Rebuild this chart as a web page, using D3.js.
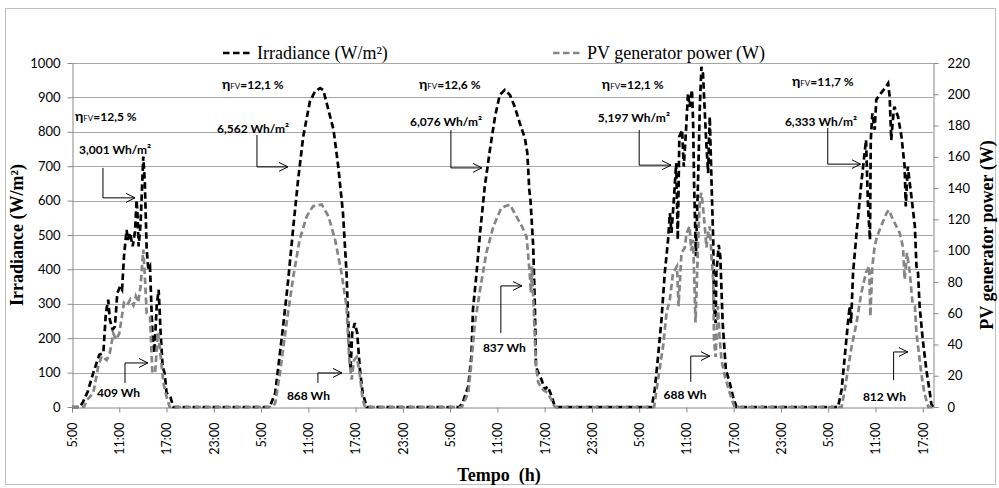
<!DOCTYPE html>
<html>
<head>
<meta charset="utf-8">
<script src="https://cdn.jsdelivr.net/npm/d3@7"></script>
<style>
  body { margin: 0; background: #fff; }
  svg { display: block; }
</style>
</head>
<body>
<div id="chart"></div>
<script>
// each day's readings: [clock hour, value]; the x axis starts at 5:00 of day 1
var irrDay1 = [[5.0,0],[6.0,0],[6.4,15],[7.0,45],[7.7,99],[8.47,152],[8.98,157],[9.3,274],[9.6,312],[9.8,254],[10.16,225],[10.45,234],[10.75,331],[11.1,350],[11.35,341],[11.6,438],[11.93,515],[12.1,486],[12.36,506],[12.7,467],[13.0,510],[13.2,602],[13.33,554],[13.46,467],[13.7,532],[14.05,728],[14.25,651],[14.48,457],[14.7,399],[14.9,408],[15.2,216],[15.45,157],[15.75,293],[16.0,341],[16.25,216],[16.5,118],[16.75,99],[17.0,42],[17.5,28],[17.86,0]];
var irrDay2 = [[6.1,0],[6.8,41],[7.2,118],[7.8,235],[8.45,370],[9.1,525],[9.7,660],[10.35,786],[11.2,888],[11.84,917],[12.5,927],[12.9,921],[13.55,864],[14.2,806],[14.8,699],[15.4,564],[15.85,390],[16.15,196],[16.36,109],[16.57,215],[16.9,244],[17.2,216],[17.55,109],[17.9,41],[18.4,0]];
var irrDay3 = [[6.2,0],[6.66,17],[7.3,60],[7.7,147],[7.9,283],[8.36,390],[8.8,506],[9.4,641],[10.05,747],[10.7,844],[11.3,907],[11.95,922],[12.6,907],[13.2,873],[13.85,825],[14.5,781],[14.8,738],[15.05,631],[15.2,602],[15.4,525],[15.55,467],[15.76,293],[15.9,118],[16.2,99],[16.6,80],[17.0,51],[17.4,60],[17.9,31],[18.3,0]];
var irrDay4 = [[6.6,0],[6.98,51],[7.4,147],[7.83,254],[8.25,390],[8.67,486],[8.9,564],[9.1,506],[9.4,602],[9.7,709],[9.9,486],[10.1,786],[10.45,805],[10.66,699],[10.9,786],[11.2,912],[11.4,873],[11.7,922],[11.85,825],[11.97,651],[12.2,438],[12.5,680],[12.7,873],[12.9,989],[13.1,970],[13.3,873],[13.5,776],[13.75,680],[13.96,844],[14.2,640],[14.4,486],[14.5,293],[14.7,244],[14.8,390],[15.1,471],[15.3,438],[15.6,244],[16.0,109],[16.5,70],[16.9,31],[17.35,0]];
var irrDay5 = [[6.25,0],[6.7,51],[7.1,147],[7.5,244],[7.73,293],[7.9,244],[8.15,390],[8.6,506],[9.2,651],[9.8,776],[10.05,583],[10.3,486],[10.4,776],[10.6,854],[10.9,806],[11.1,893],[11.5,907],[12.2,927],[12.6,941],[12.8,902],[13.0,776],[13.2,834],[13.4,873],[13.86,844],[14.3,786],[14.7,699],[14.84,583],[15.1,699],[15.56,612],[16.0,525],[16.2,409],[16.4,390],[16.6,293],[17.0,196],[17.45,109],[17.9,41],[18.1,8],[18.3,0]];

var pvDay1 = [[5.0,0],[6.5,0],[7.0,5],[7.7,9],[8.34,26],[8.76,32.5],[9.4,30],[9.8,34.7],[10.24,47],[10.6,43],[11.0,47],[11.6,66.6],[12.0,65],[12.4,68.8],[12.8,65],[13.1,70.9],[13.4,67],[13.7,77],[14.05,100.7],[14.25,83.7],[14.48,60],[14.9,58],[15.2,22],[15.55,22],[15.9,47.6],[16.1,40],[16.6,15.6],[17.0,6.4],[17.4,0]];
var pvDay2 = [[6.5,0],[6.8,2.7],[7.4,21.9],[8.24,53.8],[9.1,83.7],[9.9,107],[10.8,122],[11.6,128.4],[12.7,129.5],[13.55,122],[14.4,107],[15.2,86],[15.85,64.5],[16.2,30],[16.5,17.6],[16.8,30],[17.15,32],[17.5,22],[17.9,4.8],[18.2,0]];
var pvDay3 = [[6.5,0],[7.3,9],[7.7,28],[8.1,51.7],[8.8,75],[9.6,98.6],[10.5,115.6],[11.5,127.4],[12.6,129.5],[13.4,122],[14.1,115.6],[14.7,109],[14.85,100.7],[15.1,85.8],[15.25,73],[15.4,90],[15.6,64.5],[15.9,26],[16.2,15.5],[16.8,11],[17.4,9],[17.9,4],[18.3,0]];
var pvDay4 = [[6.9,0],[7.4,17.6],[8.04,39],[8.47,60],[8.9,69],[9.3,86],[9.8,90],[10.0,64.5],[10.37,98.6],[10.8,102],[11.0,111],[11.4,115.6],[11.6,100],[11.85,107],[12.15,54],[12.5,107],[12.7,132.7],[12.9,137],[13.1,128],[13.33,115.6],[13.54,102],[13.75,111],[13.96,115.6],[14.18,96.6],[14.4,81.5],[14.5,43],[14.7,32],[15.0,64.5],[15.2,45],[15.45,30],[15.87,19.7],[16.5,9],[17.1,0]];
var pvDay5 = [[6.7,0],[7.1,11],[7.5,24],[7.9,36.8],[8.6,54],[9.2,73],[9.8,86],[10.2,90],[10.35,58],[10.6,90],[10.9,103],[11.2,109],[11.7,115.6],[12.4,124],[12.7,126],[13.2,120],[13.65,115.6],[14.1,111],[14.5,102],[14.7,81.5],[15.0,98.6],[15.35,86],[15.7,66.6],[16.0,64.5],[16.2,47.4],[16.4,39],[16.8,22],[17.2,9],[17.7,0],[18.3,0]];

var tickLabels = ["5:00","11:00","17:00","23:00","5:00","11:00","17:00","23:00","5:00","11:00","17:00","23:00",
                  "5:00","11:00","17:00","23:00","5:00","11:00","17:00"];
var irrTicks = [0,100,200,300,400,500,600,700,800,900,1000];
var pvTicks = [0,20,40,60,80,100,120,140,160,180,200,220];

var effLabels = ["12,5 %","12,1 %","12,6 %","12,1 %","11,7 %"];
var irrEnergy = ["3,001 Wh/m²","6,562 Wh/m²","6,076 Wh/m²","5,197 Wh/m²","6,333 Wh/m²"];
var pvEnergy = ["409 Wh","868 Wh","837 Wh","688 Wh","812 Wh"];

// where each day's notes sit, in axis units (hours from start, irradiance)
var effPos = [[0.38,831],[19.04,924],[44.04,924],[67.26,924],[91.4,933]];
var irrPos = [[0.89,735],[18.4,797],[42.9,817],[66.75,828],[90.5,817]];
var pvPos = [[3.17,29],[27.28,20],[52.16,160],[75.1,23],[100.4,17]];
var irrArrows = [[[3.93,695],[3.93,608],[8.0,608]],
                 [[23.48,791],[23.48,698],[27.41,698]],
                 [[48.1,805],[48.1,695],[52.03,695]],
                 [[72.0,805],[72.0,703],[76.05,703]],
                 [[95.94,811],[95.94,706],[100.1,706]]];
var pvArrows = [[[6.73,70],[6.73,128],[9.64,128]],
                [[31.22,70],[31.22,99],[34.26,99]],
                [[54.44,215],[54.44,352],[57.1,352]],
                [[78.55,73],[78.55,148],[80.96,148]],
                [[104.3,78],[104.3,160],[106.1,160]]];

var width = 999, height = 488;
var plotLeft = 72, plotRight = 933, plotTop = 63, plotBottom = 407;
var sans = "Lato, 'Open Sans', sans-serif";
var serif = "'Liberation Serif', 'Times New Roman', serif";
var gridColor = "#a6a6a6";

function toSeries(days) {
    var out = [];
    days.forEach(function (day, d) {
        day.forEach(function (p) { out.push({h: d * 24 + (p[0] - 5), v: p[1]}); });
    });
    return out;
}
var irradiance = toSeries([irrDay1, irrDay2, irrDay3, irrDay4, irrDay5]);
var pvPower = toSeries([pvDay1, pvDay2, pvDay3, pvDay4, pvDay5]);

var x = d3.scaleLinear().domain([0, 109.3]).range([plotLeft, plotRight]);
var yIrr = d3.scaleLinear().domain([0, 1000]).range([plotBottom, plotTop]);
var yPv = d3.scaleLinear().domain([0, 220]).range([plotBottom, plotTop]);

var svg = d3.select("#chart").append("svg")
    .attr("width", width)
    .attr("height", height);

svg.append("rect")
    .attr("x", 5.5).attr("y", 8.5)
    .attr("width", 990).attr("height", 476)
    .attr("fill", "#fff")
    .attr("stroke", "#bfbfbf");

// horizontal grid
svg.append("g").selectAll("line")
    .data(irrTicks.slice(1))
    .enter().append("line")
    .attr("x1", plotLeft).attr("x2", plotRight)
    .attr("y1", d => Math.round(yIrr(d)) + 0.5)
    .attr("y2", d => Math.round(yIrr(d)) + 0.5)
    .attr("stroke", gridColor);

// axes
var axisLeft = svg.append("g")
    .attr("transform", "translate(" + (plotLeft + 0.5) + ",0)")
    .call(d3.axisLeft(yIrr).tickValues(irrTicks).tickFormat(d3.format("d"))
        .tickSize(5).tickPadding(7).tickSizeOuter(0));
var axisRight = svg.append("g")
    .attr("transform", "translate(" + (plotRight + 0.5) + ",0)")
    .call(d3.axisRight(yPv).tickValues(pvTicks).tickFormat(d3.format("d"))
        .tickSize(5).tickPadding(9).tickSizeOuter(0));
var axisBottom = svg.append("g")
    .attr("transform", "translate(0," + (plotBottom + 0.5) + ")")
    .call(d3.axisBottom(x).tickValues(d3.range(0, 109, 6)).tickSize(5).tickSizeOuter(0)
        .tickFormat((d, i) => tickLabels[i]));

[axisLeft, axisRight, axisBottom].forEach(function (g) {
    g.selectAll("path, line").attr("stroke", "#888");
    g.selectAll("text").attr("font-family", sans).attr("font-size", "13px").attr("fill", "#000");
});
axisBottom.selectAll("text")
    .attr("transform", "rotate(-90)")
    .attr("text-anchor", "end")
    .attr("x", -15)
    .attr("y", 0)
    .attr("dy", "0.35em")
    .attr("font-size", "12.5px");

// series
var line = function (yScale) {
    return d3.line().x(d => x(d.h)).y(d => yScale(d.v));
};
svg.append("path")
    .datum(irradiance)
    .attr("d", line(yIrr))
    .attr("fill", "none")
    .attr("stroke", "#000")
    .attr("stroke-width", 2.7)
    .attr("stroke-dasharray", "6.5,3.5");
svg.append("path")
    .datum(pvPower)
    .attr("d", line(yPv))
    .attr("fill", "none")
    .attr("stroke", "#858585")
    .attr("stroke-width", 2.7)
    .attr("stroke-dasharray", "6.5,3.5");

// arrows and notes
svg.append("defs").append("marker")
    .attr("id", "open")
    .attr("viewBox", "0 0 10 10")
    .attr("refX", 9).attr("refY", 5)
    .attr("markerWidth", 10).attr("markerHeight", 10)
    .attr("markerUnits", "userSpaceOnUse")
    .attr("orient", "auto")
    .append("path")
    .attr("d", "M0,0.5 L9,5 L0,9.5")
    .attr("fill", "none")
    .attr("stroke", "#000")
    .attr("stroke-width", 1);

var elbow = d3.line().x(d => x(d[0])).y(d => yIrr(d[1]));
svg.append("g").selectAll("path")
    .data(irrArrows.concat(pvArrows))
    .enter().append("path")
    .attr("d", elbow)
    .attr("fill", "none")
    .attr("stroke", "#000")
    .attr("stroke-width", 1)
    .attr("marker-end", "url(#open)");

var notes = svg.append("g")
    .attr("font-family", sans)
    .attr("font-weight", "bold")
    .attr("font-size", "12px");

var eff = notes.selectAll(".eff")
    .data(effLabels)
    .enter().append("text")
    .attr("x", (d, i) => x(effPos[i][0]))
    .attr("y", (d, i) => yIrr(effPos[i][1]));
eff.append("tspan").attr("font-size", "14px").text("η");
eff.append("tspan").attr("font-size", "8px").attr("font-weight", "normal").text("FV");
eff.append("tspan").text(d => "=" + d);

notes.selectAll(".irrE")
    .data(irrEnergy)
    .enter().append("text")
    .attr("x", (d, i) => x(irrPos[i][0]))
    .attr("y", (d, i) => yIrr(irrPos[i][1]))
    .text(d => d);

notes.selectAll(".pvE")
    .data(pvEnergy)
    .enter().append("text")
    .attr("x", (d, i) => x(pvPos[i][0]))
    .attr("y", (d, i) => yIrr(pvPos[i][1]))
    .text(d => d);

// legend
var legend = [
    {label: "Irradiance (W/m²)", color: "#000", x: 223},
    {label: "PV generator power (W)", color: "#858585", x: 553}
];
var lg = svg.append("g").selectAll("g")
    .data(legend)
    .enter().append("g")
    .attr("transform", d => "translate(" + d.x + ",53)");
lg.append("line")
    .attr("x1", 0).attr("x2", 28)
    .attr("stroke", d => d.color)
    .attr("stroke-width", 2.7)
    .attr("stroke-dasharray", "6.5,3.5");
lg.append("text")
    .attr("x", 34).attr("y", 6)
    .attr("font-family", serif)
    .attr("font-size", "18px")
    .text(d => d.label);

// axis titles
svg.append("text")
    .attr("transform", "translate(23," + (plotTop + plotBottom) / 2 + ") rotate(-90)")
    .attr("text-anchor", "middle")
    .attr("font-family", serif).attr("font-weight", "bold").attr("font-size", "18px")
    .text("Irradiance (W/m²)");
svg.append("text")
    .attr("transform", "translate(993," + (plotTop + plotBottom) / 2 + ") rotate(-90)")
    .attr("text-anchor", "middle")
    .attr("font-family", serif).attr("font-weight", "bold").attr("font-size", "18px")
    .text("PV generator power (W)");
svg.append("text")
    .attr("x", 499).attr("y", 481)
    .attr("text-anchor", "middle")
    .attr("font-family", serif).attr("font-weight", "bold").attr("font-size", "18px")
    .style("white-space", "pre")
    .text("Tempo  (h)");
</script>
</body>
</html>
